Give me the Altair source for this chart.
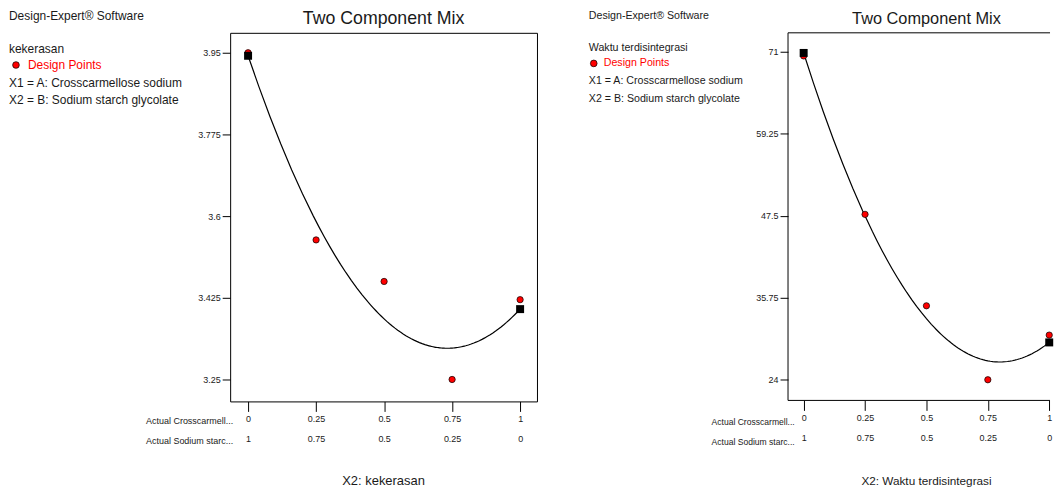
import altair as alt
import pandas as pd

# ---- data ----
mix_a = [0, 0.25, 0.5, 0.75, 1]                      # Actual Crosscarmellose sodium
kekerasan = [3.95, 3.549, 3.46, 3.25, 3.421]         # response 1
waktu = [70.4, 47.7, 34.6, 24.0, 30.4]               # response 2
x_ticks = [0, 0.25, 0.5, 0.75, 1]
kek_ticks = [3.25, 3.425, 3.6, 3.775, 3.95]
waktu_ticks = [24, 35.75, 47.5, 59.25, 71]
software = "Design-Expert® Software"
legend_label = "Design Points"
factor_lines = ["X1 = A: Crosscarmellose sodium", "X2 = B: Sodium starch glycolate"]
row_titles = ["Actual Crosscarmell...", "Actual Sodium starc..."]
title_text = "Two Component Mix"
responses = ["kekerasan", "Waktu terdisintegrasi"]

FONT = "Liberation Sans"
TXT = "#1a1a1a"


def one_row():
    return alt.Chart(pd.DataFrame({"t": [""]}))


def text_layer(s, x, y, size, color=TXT, align="left", baseline="middle"):
    return alt.Chart(pd.DataFrame({"t": [s]})).mark_text(
        align=align, baseline=baseline, fontSize=size, color=color, font=FONT
    ).encode(text="t:N", x=alt.value(x), y=alt.value(y))


def rule(x, x2, y, y2, opacity=1):
    return one_row().mark_rule(color="black", strokeWidth=1, opacity=opacity).encode(
        x=alt.value(x), x2=alt.value(x2), y=alt.value(y), y2=alt.value(y2))


def panel(resp, values, yticks, ydom, xdom, w, h, o):
    df = pd.DataFrame({"a": mix_a, "y": values})
    xs = alt.Scale(domain=xdom, nice=False, zero=False)
    ys = alt.Scale(domain=ydom, nice=False, zero=False)
    xaxis = alt.Axis(values=x_ticks,
                     labelExpr="['' + datum.value, '' + (1 - datum.value)]",
                     domain=False, grid=False, tickSize=10, tickColor="black", tickWidth=1,
                     labelFontSize=o["tick_fs"], labelLineHeight=20, labelPadding=3,
                     labelBaseline="top", labelOverlap=False, labelFlush=False,
                     labelColor=TXT, labelFont=FONT, title=None)
    yaxis = alt.Axis(values=yticks, labelExpr="'' + datum.value", domain=False, grid=False,
                     tickSize=8, tickColor="black", tickWidth=1,
                     labelFontSize=9, labelPadding=2, labelOverlap=False, labelFlush=False,
                     labelColor=TXT, labelFont=FONT, title=None)
    X = alt.X("a:Q", scale=xs, axis=xaxis)
    Y = alt.Y("y:Q", scale=ys, axis=yaxis)
    base = alt.Chart(df)
    curve = base.transform_regression("a", "y", method="poly", order=2, extent=[0, 1]).mark_line(
        color="black", strokeWidth=1.2).encode(x=X, y=Y)
    pts = base.mark_circle(size=40, color="#ff0000", opacity=1, stroke="black",
                           strokeWidth=0.7).encode(x=X, y=Y)
    sq = base.transform_regression("a", "y", method="poly", order=2, extent=[0, 1]).transform_filter(
        "datum.a < 0.001 || datum.a > 0.999").mark_square(
        size=64, color="black", opacity=1).encode(x=X, y=Y)

    legend_dot = one_row().mark_circle(
        size=45, color="#ff0000", opacity=1, stroke="black", strokeWidth=0.7
    ).encode(x=alt.value(o["dot_x"]), y=alt.value(o["dot_y"]))

    layers = [curve, pts, sq,
              text_layer(software, o["tx"], o["y_soft"], o["fs"]),
              text_layer(resp, o["tx"], o["y_resp"], o["fs"]),
              legend_dot,
              text_layer(legend_label, o["lx"], o["dot_y"], o["fs"], color="#ff0000"),
              text_layer(factor_lines[0], o["tx"], o["y_x1"], o["fs"]),
              text_layer(factor_lines[1], o["tx"], o["y_x2"], o["fs"]),
              text_layer(title_text, o["cx"], o["title_y"], o["title_fs"], align="center"),
              text_layer(row_titles[0], o["row_x"], o["row_y"], o["row_fs"], align="right"),
              text_layer(row_titles[1], o["row_x"], o["row_y"] + 20, o["row_fs"], align="right"),
              text_layer("X2: " + resp, o["cx"], o["xt_y"], o["xt_fs"], align="center",
                         baseline="alphabetic"),
              ]
    layers += o.get("extra", [])
    return alt.layer(*layers).properties(
        width=w, height=h,
        view=alt.ViewBackground(stroke=o["stroke"], strokeWidth=1))


# invisible anchor fixing the top-left corner of the canvas
anchor = rule(-222, -212, -22.5, -22.5, opacity=0)

left = panel(responses[0], kekerasan, kek_ticks, [3.203, 3.9927], [-0.0659, 1.062], 308, 370,
             dict(tick_fs=9, tx=-222, y_soft=-17, y_resp=16, dot_x=-215, dot_y=32.3, lx=-203,
                  y_x1=50, y_x2=67, fs=12, cx=154, title_y=-13.5, title_fs=17.8,
                  row_x=3, row_y=390, row_fs=9, xt_y=454, xt_fs=13,
                  stroke="black", extra=[anchor]))
# the reference cuts the right panel at the window edge: only its visible part is drawn
RW = 263
PX = 246.5   # pixels per unit of the right x scale
right = panel(responses[1], waktu, waktu_ticks, [21.04, 73.714], [-0.0637, -0.0637 + RW / PX], RW, 369,
              dict(tick_fs=9, tx=-200, y_soft=-17, y_resp=15.7, dot_x=-195, dot_y=30.7, lx=-185,
                   y_x1=48, y_x2=66.3, fs=10.7, cx=139, title_y=-14, title_fs=16.4,
                   row_x=6.7, row_y=390.5, row_fs=8.6, xt_y=454, xt_fs=11.8,
                   stroke="transparent",
                   extra=[rule(0, 0, 0, 369), rule(0, RW, 0, 0), rule(0, RW, 369, 369)]))

chart = alt.hconcat(left, right, spacing=252, bounds="flush").properties(
    padding={"top": 0, "left": 0, "right": 0, "bottom": -1}, background="white"
).configure(font=FONT)

chart.save("out.html", embed_options={"renderer": "svg", "actions": False})
